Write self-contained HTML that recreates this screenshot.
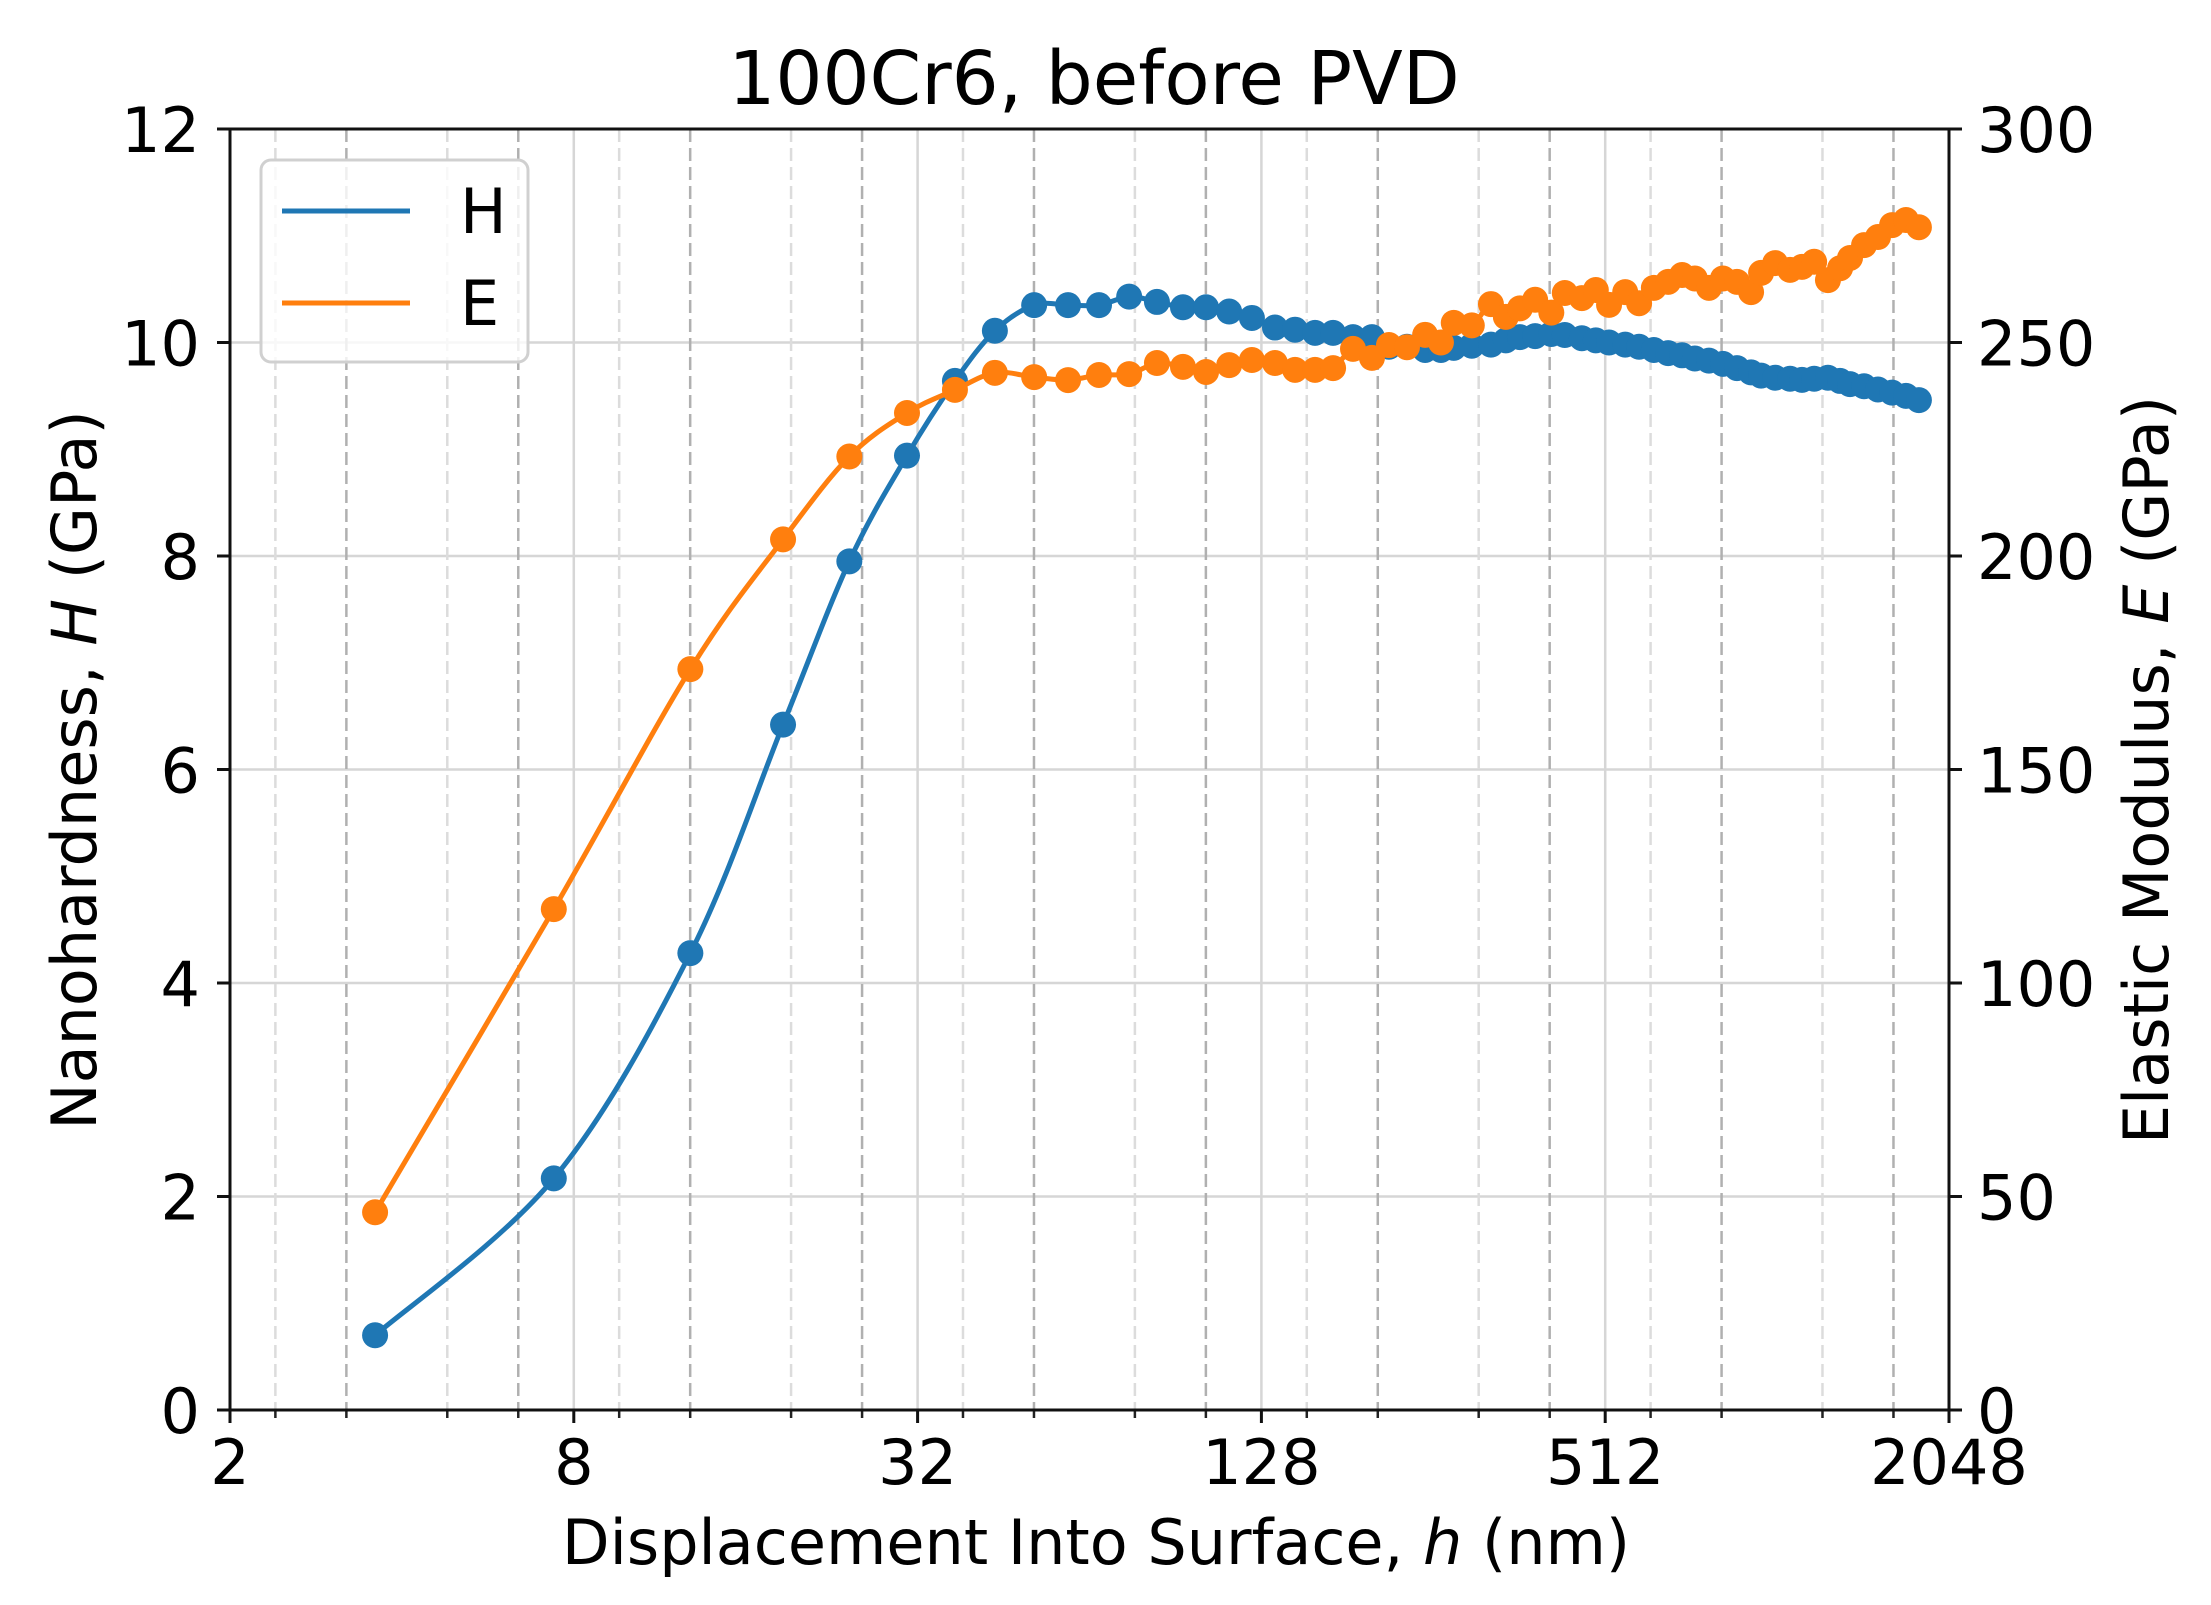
<!DOCTYPE html>
<html><head><meta charset="utf-8"><style>
html,body{margin:0;padding:0;background:#fff;}
svg{display:block;font-family:"DejaVu Sans","Liberation Sans",sans-serif;}
</style></head><body>
<svg id="chart" width="2211" height="1605" viewBox="0 0 2211 1605">
<g id="grid"></g>
<g id="series"></g>
<g id="axes"></g>
<text x="1094" y="104" font-size="74" text-anchor="middle">100Cr6, before PVD</text>
<text x="1096" y="1564" font-size="62" text-anchor="middle">Displacement Into Surface, <tspan font-style="italic">h</tspan> (nm)</text>
<text transform="translate(96,770) rotate(-90)" font-size="62" text-anchor="middle">Nanohardness, <tspan font-style="italic">H</tspan> (GPa)</text>
<text transform="translate(2168,770) rotate(-90)" font-size="62" text-anchor="middle">Elastic Modulus, <tspan font-style="italic">E</tspan> (GPa)</text>
<g>
<rect x="261" y="160" width="267" height="202" rx="10" fill="#fff" fill-opacity="0.8" stroke="#d0d0d0" stroke-width="3"/>
<line x1="282" y1="211" x2="410" y2="211" stroke="#1f77b4" stroke-width="5"/>
<text x="460" y="233" font-size="62">H</text>
<line x1="282" y1="303" x2="410" y2="303" stroke="#ff7f0e" stroke-width="5"/>
<text x="460" y="325" font-size="62">E</text>
</g>
</svg>
<script>
const depthNm = [3.59,7.38,12.8,18.6,24.3,30.66,37.2,43.7,51.2,58.7,66.5,75.1,84.0,93.3,102.4,112.4,123.2,135.2,146.6,158.9,170.9,185.2,199.9,214.1,230.2,247.7,264,278,299,323,343,363,386,412,435,466,493,520,555,587,623,660,698,735,778,823,871,922,960,1016,1079,1132,1189,1257,1320,1374,1454,1538,1628,1722,1814];
const hardnessGPa = [0.70,2.17,4.28,6.42,7.95,8.94,9.64,10.11,10.35,10.35,10.35,10.43,10.38,10.33,10.33,10.29,10.23,10.14,10.12,10.09,10.09,10.05,10.05,9.96,9.96,9.93,9.93,9.95,9.97,9.98,10.02,10.05,10.06,10.08,10.07,10.04,10.02,10.0,9.98,9.96,9.93,9.90,9.88,9.85,9.83,9.80,9.76,9.72,9.69,9.67,9.66,9.65,9.66,9.67,9.64,9.61,9.59,9.56,9.53,9.50,9.46];
const modulusGPa = [46.3,117.3,173.5,203.9,223.3,233.5,238.9,242.9,241.9,241.2,242.4,242.6,245.2,244.3,243.1,244.7,245.9,245.2,243.6,243.6,244.0,248.5,246.4,249.4,248.9,251.8,250.0,254.6,254.0,259.0,256.0,258.0,260.0,257.0,261.6,260.4,262.3,258.8,261.8,259.2,262.8,264.2,265.8,265.0,262.8,265.0,264.2,261.8,266.3,268.6,267.0,267.7,268.9,264.6,267.4,269.8,272.8,274.7,277.5,278.7,277.0];
const xTickValues = [2,8,32,128,512,2048];
const hTickValues = [0,2,4,6,8,10,12];
const eTickValues = [0,50,100,150,200,250,300];

const L=230,R=1949,T=129,B=1410;
const xS = v => L + (Math.log2(v)-1)/10*(R-L);
const yH = v => B - v/12*(B-T);
const yE = v => B - v/300*(B-T);
const NS="http://www.w3.org/2000/svg";
function mk(tag, attrs, parent){const e=document.createElementNS(NS,tag);for(const k in attrs)e.setAttribute(k,attrs[k]);parent.appendChild(e);return e;}
const grid=document.getElementById('grid'), axes=document.getElementById('axes'), series=document.getElementById('series');

hTickValues.forEach(v=>{
  const l=mk('line',{x1:L,x2:R,y1:yH(v),y2:yH(v),stroke:'#d6d6d6','stroke-width':2.5},grid);
  
  
});
const minorOff=[0.264,0.677,1.264,1.677];
const minorCol=['#dcdcdc','#b0b0b0','#dcdcdc','#b0b0b0'];
xTickValues.forEach((v,i)=>{
  const x=xS(v);
  if(i>0&&i<xTickValues.length-1){
    const g=mk('line',{x1:x,x2:x,y1:T,y2:B,stroke:'#d6d6d6','stroke-width':2.5},grid);
    
    
  }
  if(i<xTickValues.length-1){
    minorOff.forEach((o,j)=>{
      const mx=xS(v*Math.pow(2,o));
      const d=mk('line',{x1:mx,x2:mx,y1:T,y2:B,stroke:minorCol[j],'stroke-width':2.5,'stroke-dasharray':'13 6'},grid);
      
      
      const t=mk('line',{x1:mx,x2:mx,y1:B,y2:B+8,stroke:'#222','stroke-width':2.5},axes);
      
      
    });
  }
  const t=mk('line',{x1:x,x2:x,y1:B,y2:B+13,stroke:'#111','stroke-width':3},axes);
  
  
  const lb=mk('text',{x:x,y:B+74,'font-size':62,'text-anchor':'middle'},axes);
  lb.textContent=v;
  
  
});
hTickValues.forEach(v=>{
  const y=yH(v);
  const t=mk('line',{x1:L-13,x2:L,y1:y,y2:y,stroke:'#111','stroke-width':3},axes);
  
  
  const lb=mk('text',{x:L-30,y:y+23,'font-size':62,'text-anchor':'end'},axes);
  lb.textContent=v;
  
  
});
eTickValues.forEach(v=>{
  const y=yE(v);
  const t=mk('line',{x1:R,x2:R+13,y1:y,y2:y,stroke:'#111','stroke-width':3},axes);
  
  
  const lb=mk('text',{x:R+28,y:y+23,'font-size':62,'text-anchor':'start'},axes);
  lb.textContent=v;
  
  
});
const frame=mk('rect',{x:L,y:T,width:R-L,height:B-T,fill:'none',stroke:'#111','stroke-width':3},axes);



function smoothPath(pts){
  let d='M'+pts[0][0]+','+pts[0][1];
  for(let i=0;i<pts.length-1;i++){
    const p0=pts[Math.max(0,i-1)],p1=pts[i],p2=pts[i+1],p3=pts[Math.min(pts.length-1,i+2)];
    const c1x=p1[0]+(p2[0]-p0[0])/6,c1y=p1[1]+(p2[1]-p0[1])/6;
    const c2x=p2[0]-(p3[0]-p1[0])/6,c2y=p2[1]-(p3[1]-p1[1])/6;
    d+=' C'+c1x+','+c1y+' '+c2x+','+c2y+' '+p2[0]+','+p2[1];
  }
  return d;
}
function drawSeries(vals, yf, color, name){
  const pts=depthNm.map((h,i)=>[xS(h),yf(vals[i])]);
  const p=mk('path',{d:smoothPath(pts),fill:'none',stroke:color,'stroke-width':5},series);
  
  
  pts.forEach(pt=>{
    const c=mk('circle',{cx:pt[0],cy:pt[1],r:13,fill:color},series);
    
    
  });
}
drawSeries(hardnessGPa,yH,'#1f77b4','hardness');
drawSeries(modulusGPa,yE,'#ff7f0e','modulus');
</script>
</body></html>
